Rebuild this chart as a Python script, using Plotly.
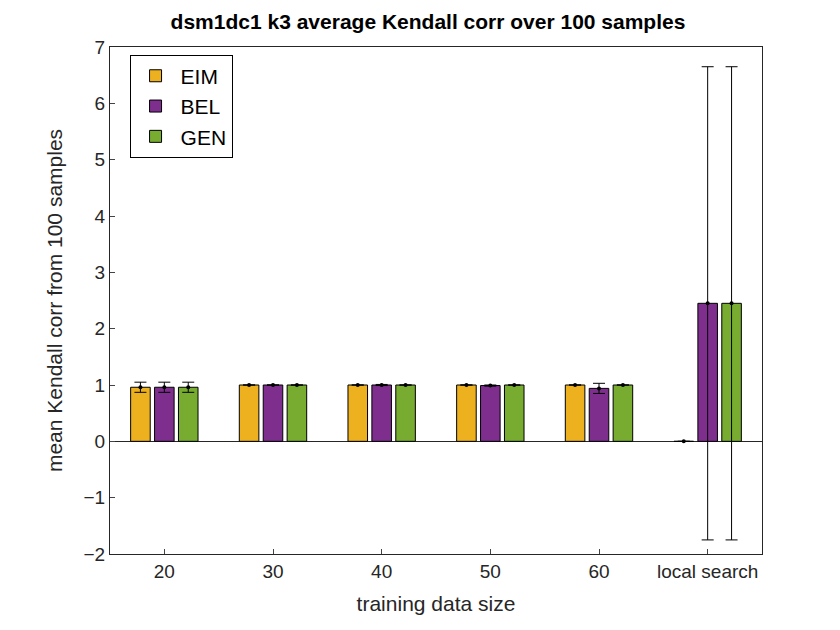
import plotly.graph_objects as go

groups = ["20", "30", "40", "50", "60", "local search"]
eim = [0.96, 1.0, 1.0, 1.0, 1.0, 0.0]
eim_err = [0.09, 0.0, 0.0, 0.0, 0.0, 0.0]
bel = [0.96, 1.0, 1.0, 0.99, 0.94, 2.45]
bel_err = [0.09, 0.0, 0.01, 0.01, 0.09, 4.2]
gen = [0.96, 1.0, 1.0, 1.0, 1.0, 2.45]
gen_err = [0.09, 0.0, 0.0, 0.0, 0.0, 4.2]

xs = list(range(1, len(groups) + 1))
series = [("EIM", eim, eim_err, "#EDB120", -0.22),
          ("BEL", bel, bel_err, "#7E2F8E", 0.0),
          ("GEN", gen, gen_err, "#77AC30", 0.22)]

fig = go.Figure()
for name, vals, errs, col, off in series:
    fig.add_trace(go.Bar(x=xs, y=vals, name=name, marker=dict(color=col, line=dict(color="black", width=1)),
                         width=0.18, offset=off - 0.09))
    fig.add_trace(go.Scatter(x=[x + off for x in xs], y=vals, mode="markers", showlegend=False,
                             marker=dict(color="black", size=4),
                             error_y=dict(type="data", array=errs, color="black", thickness=1, width=6)))

fig.update_layout(
    width=840, height=630, plot_bgcolor="white", paper_bgcolor="white",
    margin=dict(l=102, r=86, t=39, b=84),
    font=dict(family="Liberation Sans, Arial", size=19, color="#262626"),
    title=dict(text="<b>dsm1dc1 k3 average Kendall corr over 100 samples</b>", x=0.5, xanchor="center",
               y=0.99, yanchor="top", font=dict(size=21, color="black")),
    legend=dict(x=0.03, y=0.985, xanchor="left", yanchor="top", bordercolor="black", borderwidth=1,
                bgcolor="white", font=dict(size=21, color="black"), itemwidth=40),
    xaxis=dict(range=[0.5, 6.5], tickvals=xs, ticktext=groups, showline=True, linecolor="#262626",
               mirror=True, ticks="inside", ticklen=5, showgrid=False, zeroline=False,
               title=dict(text="training data size", font=dict(size=21))),
    yaxis=dict(range=[-2, 7], dtick=1, showline=True, linecolor="#262626", mirror=True, ticks="inside",
               ticklen=5, showgrid=False, zeroline=True, zerolinecolor="#262626", zerolinewidth=1,
               title=dict(text="mean Kendall corr from 100 samples", font=dict(size=21))),
)
fig.write_html("out.html")
